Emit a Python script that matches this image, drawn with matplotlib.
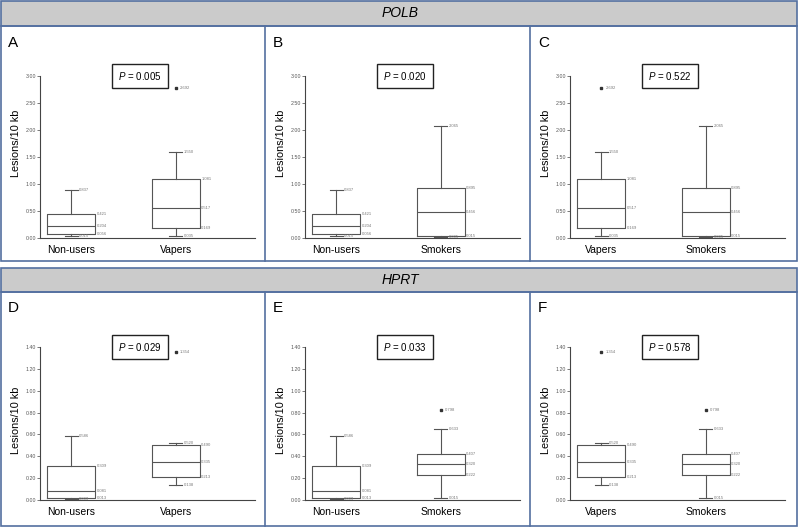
import matplotlib.pyplot as plt
from matplotlib.patches import Rectangle
from matplotlib.lines import Line2D

plt.rcParams['font.family'] = ['Liberation Sans', 'DejaVu Sans']
plt.rcParams['mathtext.fontset'] = 'custom'
plt.rcParams['mathtext.it'] = 'Liberation Sans:italic'
plt.rcParams['mathtext.rm'] = 'Liberation Sans'

genes = ['POLB', 'HPRT']
letters = [['A', 'B', 'C'], ['D', 'E', 'F']]
pairs = [('Non-users', 'Vapers'), ('Non-users', 'Smokers'), ('Vapers', 'Smokers')]
p_values = [['0.005', '0.020', '0.522'], ['0.029', '0.033', '0.578']]

# box values: whislo, q1, median, q3, whishi
polb_nonusers = [0.03, 0.07, 0.22, 0.44, 0.88]
polb_vapers = [0.03, 0.18, 0.55, 1.10, 1.60]
polb_smokers = [0.02, 0.03, 0.48, 0.92, 2.07]
polb_vapers_out = [2.78]
polb_smokers_out = []
polb_nonusers_out = []

hprt_nonusers = [0.01, 0.015, 0.085, 0.31, 0.585]
hprt_vapers = [0.14, 0.215, 0.345, 0.50, 0.52]
hprt_smokers = [0.015, 0.23, 0.33, 0.42, 0.65]
hprt_vapers_out = [1.35]
hprt_smokers_out = [0.82]
hprt_nonusers_out = []

# the tiny value labels printed next to each box
polb_nonusers_lbl = ['0.015', '0.056', '0.204', '0.421', '0.837']
polb_vapers_lbl = ['0.035', '0.169', '0.517', '1.081', '1.550']
polb_smokers_lbl = ['0.005', '0.015', '0.456', '0.895', '2.065']
polb_vapers_out_lbl = ['2.692']
hprt_nonusers_lbl = ['0.009', '0.013', '0.081', '0.309', '0.586']
hprt_vapers_lbl = ['0.138', '0.213', '0.335', '0.490', '0.520']
hprt_smokers_lbl = ['0.015', '0.222', '0.320', '0.407', '0.633']
hprt_vapers_out_lbl = ['1.354']
hprt_smokers_out_lbl = ['0.798']

data = {
    'POLB': {'Non-users': (polb_nonusers, polb_nonusers_out, polb_nonusers_lbl, []),
             'Vapers': (polb_vapers, polb_vapers_out, polb_vapers_lbl, polb_vapers_out_lbl),
             'Smokers': (polb_smokers, polb_smokers_out, polb_smokers_lbl, [])},
    'HPRT': {'Non-users': (hprt_nonusers, hprt_nonusers_out, hprt_nonusers_lbl, []),
             'Vapers': (hprt_vapers, hprt_vapers_out, hprt_vapers_lbl, hprt_vapers_out_lbl),
             'Smokers': (hprt_smokers, hprt_smokers_out, hprt_smokers_lbl, hprt_smokers_out_lbl)},
}
yticks = {'POLB': [0, 0.5, 1.0, 1.5, 2.0, 2.5, 3.0],
          'HPRT': [0, 0.2, 0.4, 0.6, 0.8, 1.0, 1.2, 1.4]}

W, H = 800, 528
border = '#5470a0'
line_c = '#555555'


def fx(x):
    return x / W


def fy(y):
    return 1 - y / H


fig = plt.figure(figsize=(8, 5.28), dpi=100)

# rows: header top, header bottom, panel bottom, axes top, axes bottom, letter y, ylabel y
rows = [(0, 26, 261, 76, 238, 36, 0.585), (267, 292, 526, 347, 500, 301, 0.52)]
panel_x = [0, 265, 530]

for r, gene in enumerate(genes):
    htop, hbot, pbot, atop, abot, ly, ylab_y = rows[r]
    fig.add_artist(Rectangle((fx(1), fy(hbot)), fx(797) - fx(1), fy(htop + 1) - fy(hbot),
                             transform=fig.transFigure, facecolor='#cbcbcb', edgecolor=border, lw=1.2))
    fig.add_artist(Rectangle((fx(1), fy(pbot)), fx(797) - fx(1), fy(hbot) - fy(pbot),
                             transform=fig.transFigure, facecolor='none', edgecolor=border, lw=1.2))
    for xv in panel_x[1:]:
        fig.add_artist(Line2D([fx(xv), fx(xv)], [fy(hbot), fy(pbot)], transform=fig.transFigure,
                              color=border, lw=1.2))
    fig.text(0.5, fy((htop + hbot) / 2), gene, style='italic', fontsize=10, ha='center', va='center')

    for c in range(3):
        x0 = panel_x[c]
        fig.text(fx(x0 + 8), fy(ly), letters[r][c], fontsize=11, va='top', ha='left')
        ax = fig.add_axes([fx(x0 + 40), fy(abot), 215 / W, (abot - atop) / H])
        ax.set_facecolor('none')
        stats = []
        for name in pairs[c]:
            v, out, _, _ = data[gene][name]
            stats.append(dict(whislo=v[0], q1=v[1], med=v[2], q3=v[3], whishi=v[4], fliers=out))
        ax.bxp(stats, positions=[1, 2], widths=0.46, capwidths=0.12, showfliers=True,
               boxprops=dict(color=line_c, lw=0.8), whiskerprops=dict(color=line_c, lw=0.8),
               capprops=dict(color=line_c, lw=0.8), medianprops=dict(color=line_c, lw=0.8),
               flierprops=dict(marker='s', markersize=2, markerfacecolor='#333333',
                               markeredgecolor='#333333'))
        for p, name in zip([1, 2], pairs[c]):
            v, out, lbl, out_lbl = data[gene][name]
            for k in range(5):
                xo = p + 0.245 if k in (1, 2, 3) else p + 0.075
                ax.text(xo, v[k], lbl[k], fontsize=3, color='#777777', va='center', ha='left')
            for yv, t in zip(out, out_lbl):
                ax.text(p + 0.04, yv, t, fontsize=3, color='#777777', va='center', ha='left')
        ax.set_xlim(0.7, 2.76)
        ax.set_ylim(0, yticks[gene][-1])
        ax.set_yticks(yticks[gene])
        ax.set_yticklabels(['%.2f' % t for t in yticks[gene]])
        ax.set_xticks([1, 2])
        ax.set_xticklabels(pairs[c])
        ax.tick_params(axis='y', labelsize=3.8, labelcolor='#555555', length=2, width=0.5,
                       pad=1, color='#444444')
        ax.tick_params(axis='x', labelsize=7.5, length=0, pad=5)
        for s in ['top', 'right']:
            ax.spines[s].set_visible(False)
        for s in ['left', 'bottom']:
            ax.spines[s].set_color('#444444')
            ax.spines[s].set_linewidth(0.8)
        ax.set_ylabel('Lesions/10 kb', fontsize=7.8)
        ax.yaxis.set_label_coords(-0.09, ylab_y)
        ax.text(0.465, 1.0, '$P$ = ' + p_values[r][c], transform=ax.transAxes, fontsize=7,
                ha='center', va='center',
                bbox=dict(boxstyle='square,pad=0.6', facecolor='white', edgecolor='#222222', lw=1))

fig.savefig('out.png', dpi=100)
